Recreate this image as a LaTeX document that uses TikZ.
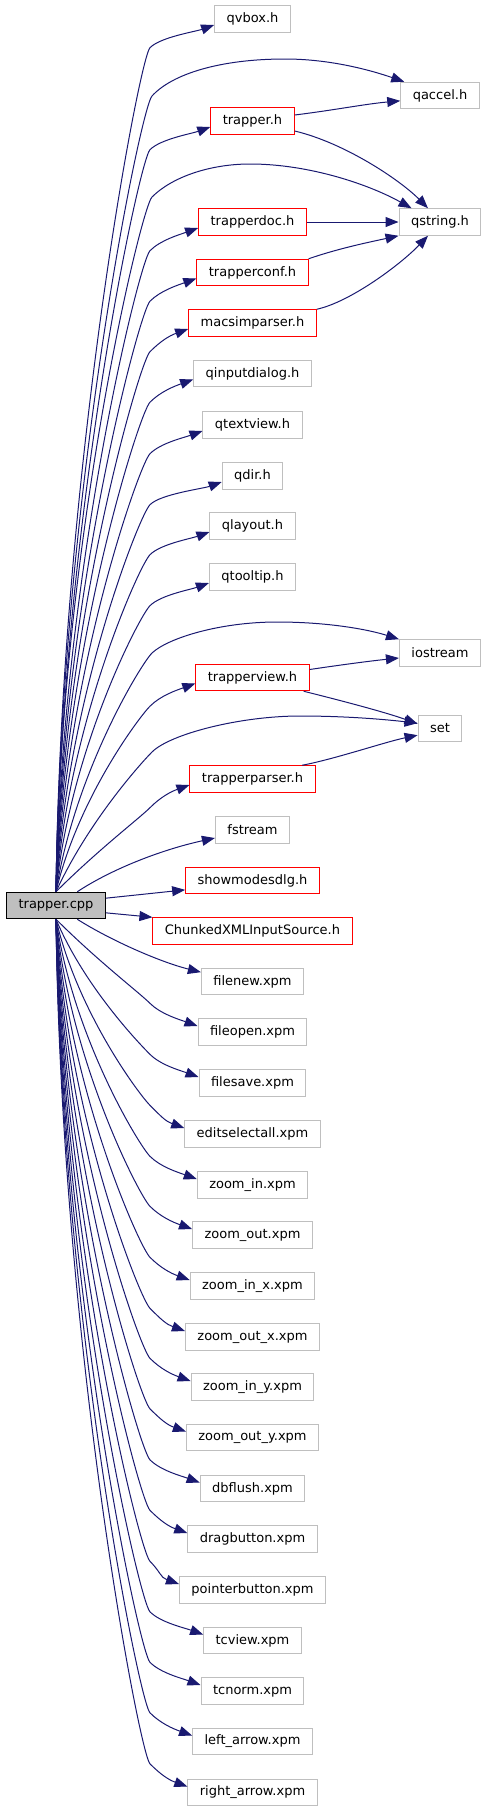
\documentclass[tikz,border=0pt]{standalone}
\usepackage{fontspec}
\setmainfont{DejaVu Sans}
\usetikzlibrary{arrows.meta,calc}
\definecolor{edgeblue}{HTML}{191970}
\definecolor{boxgray}{HTML}{BFBFBF}
\begin{document}
\begin{tikzpicture}[x=0.75pt,y=-0.75pt,
		file/.style={draw=boxgray,line width=0.75pt,inner xsep=9pt,inner ysep=0pt,minimum height=19.9pt,font=\fontsize{9.75}{12}\selectfont},
		local/.style={file,draw=red},
		main/.style={file,draw=black,fill=boxgray},
		dep/.style={edgeblue,line width=0.75pt,-{Triangle[length=9.75pt,width=7.5pt]}}]
		\useasboundingbox (0,0) rectangle (485,1811);
		% the source file
		\node[main] (cpp) at (56,905.5) {trapper.cpp};
		% first column
		\node[file] (qvbox) at (252.5,19) {qvbox.h};
		\node[local] (trapperh) at (252.5,121) {trapper.h};
		\node[local] (trapperdoc) at (252.5,222) {trapperdoc.h};
		\node[local] (trapperconf) at (252.5,272.5) {trapperconf.h};
		\node[local] (macsimparser) at (252.5,323) {macsimparser.h};
		\node[file] (qinputdialog) at (252.5,373.5) {qinputdialog.h};
		\node[file] (qtextview) at (252.5,425) {qtextview.h};
		\node[file] (qdir) at (252.5,476) {qdir.h};
		\node[file] (qlayout) at (252.5,526) {qlayout.h};
		\node[file] (qtooltip) at (252.5,577) {qtooltip.h};
		\node[local] (trapperview) at (252.5,677.5) {trapperview.h};
		\node[local] (trapperparser) at (252.5,779) {trapperparser.h};
		\node[file] (fstream) at (252.5,830) {fstream};
		\node[local] (showmodesdlg) at (252.5,880.5) {showmodesdlg.h};
		\node[local] (chunked) at (252.5,931) {ChunkedXMLInputSource.h};
		\node[file] (filenew) at (252.5,981.5) {filenew.xpm};
		\node[file] (fileopen) at (252.5,1032) {fileopen.xpm};
		\node[file] (filesave) at (252.5,1083) {filesave.xpm};
		\node[file] (editselectall) at (252.5,1134) {editselectall.xpm};
		\node[file] (zoomin) at (252.5,1185) {zoom\_in.xpm};
		\node[file] (zoomout) at (252.5,1235) {zoom\_out.xpm};
		\node[file] (zoominx) at (252.5,1286) {zoom\_in\_x.xpm};
		\node[file] (zoomoutx) at (252.5,1337) {zoom\_out\_x.xpm};
		\node[file] (zoominy) at (252.5,1387) {zoom\_in\_y.xpm};
		\node[file] (zoomouty) at (252.5,1437.5) {zoom\_out\_y.xpm};
		\node[file] (dbflush) at (252.5,1488.5) {dbflush.xpm};
		\node[file] (dragbutton) at (252.5,1539) {dragbutton.xpm};
		\node[file] (pointerbutton) at (252.5,1590) {pointerbutton.xpm};
		\node[file] (tcview) at (252.5,1640.5) {tcview.xpm};
		\node[file] (tcnorm) at (252.5,1691) {tcnorm.xpm};
		\node[file] (leftarrow) at (252.5,1741.5) {left\_arrow.xpm};
		\node[file] (rightarrow) at (252.5,1792.5) {right\_arrow.xpm};
		% second column
		\node[file] (qaccel) at (440,95.5) {qaccel.h};
		\node[file] (qstring) at (440,222) {qstring.h};
		\node[file] (iostream) at (440,653) {iostream};
		\node[file] (set) at (440,728.5) {set};
		% fan upwards
		\foreach \t in {qvbox,trapperh,trapperdoc,trapperconf,macsimparser,qinputdialog,qtextview,qdir,qlayout,qtooltip,trapperview,trapperparser}
			\draw[dep] let \p1=([yshift=-4.5pt]\t.west), \p2=(cpp.north),
				\n1={0.5*(\y1-17pt-(\y2))}, \n2={2531pt/(\y1-(\y2))} in
				(\p2) .. controls ({\x2+\n2*1pt},{\y2+\n1*1pt}) and (104.5pt,{\y1-25pt}) .. (112.5pt,{\y1-17pt})
				.. controls (120.5pt,{\y1-9pt}) and ({\x1-14pt},{\y1-5pt}) .. (\p1);
		% fan downwards
		\foreach \t in {fileopen,filesave,editselectall,zoomin,zoomout,zoominx,zoomoutx,zoominy,zoomouty,dbflush,dragbutton,pointerbutton,tcview,tcnorm,leftarrow,rightarrow}
			\draw[dep] let \p1=([yshift=4.5pt]\t.west), \p2=(cpp.south),
				\n1={0.5*((\y2)-(\y1)-17pt)}, \n2={2531pt/((\y2)-(\y1))} in
				(\p2) .. controls ({\x2+\n2*1pt},{\y2-\n1*1pt}) and (104.5pt,{\y1+25pt}) .. (112.5pt,{\y1+17pt})
				.. controls (120.5pt,{\y1+9pt}) and ({\x1-14pt},{\y1+5pt}) .. (\p1);
		% the close ones
		\draw[dep] ([xshift=16pt]cpp.north) .. controls (110,870) and (160,850) .. ([yshift=-6pt]fstream.west);
		\draw[dep] ([yshift=5.5pt]cpp.east) -- ([yshift=-7pt]showmodesdlg.west);
		\draw[dep] ([yshift=-5.5pt]cpp.east) -- (chunked.north west);
		\draw[dep] ([xshift=16pt]cpp.south) .. controls (110,940) and (160,962) .. ([yshift=7pt]filenew.west);
		% long arcs to the second column
		\draw[dep] (cpp.north) .. controls (61,494) and (141,107) .. (152,96) .. controls (172,74) and (220,59) .. (285,59) .. controls (330,59) and (370,70) .. ([xshift=3pt]qaccel.north west);
		\draw[dep] (cpp.north) .. controls (60,545) and (141,208) .. (152,197) .. controls (172,177) and (210,164) .. (250,164) .. controls (310,164) and (370,185) .. ([xshift=9.75pt]qstring.north west);
		\draw[dep] (cpp.north) .. controls (75,772) and (141,664) .. (152,653) .. controls (168,638) and (220,622) .. (277,622) .. controls (330,622) and (370,630) .. (iostream.north west);
		\draw[dep] (cpp.north) .. controls (88,822) and (141,763) .. (152,752) .. controls (170,734) and (240,716) .. (300,716) .. controls (350,716) and (390,720) .. ([yshift=4pt]set.west);
		% between the headers
		\draw[dep] ([yshift=4.5pt]trapperh.east) .. controls (335,110) and (365,104) .. ([yshift=-4pt]qaccel.west);
		\draw[dep] ([yshift=-7.5pt]trapperh.east) .. controls (345,143) and (400,180) .. ([xshift=-9pt]qstring.north);
		\draw[dep] (trapperdoc.east) -- (qstring.west);
		\draw[dep] (trapperconf.north east) .. controls (340,248) and (370,242) .. (qstring.south west);
		\draw[dep] (macsimparser.north east) .. controls (350,302) and (400,265) .. ([xshift=-9pt]qstring.south);
		\draw[dep] ([yshift=6pt]trapperview.east) .. controls (340,665) and (370,661) .. ([yshift=-3.75pt]iostream.west);
		\draw[dep] ([xshift=-4.5pt]trapperview.south east) .. controls (335,699) and (385,712) .. ([yshift=3.5pt]set.west);
		\draw[dep] ([xshift=-10pt]trapperparser.north east) .. controls (335,759) and (385,742) .. ([yshift=-5pt]set.west);
	\end{tikzpicture}
\end{document}
